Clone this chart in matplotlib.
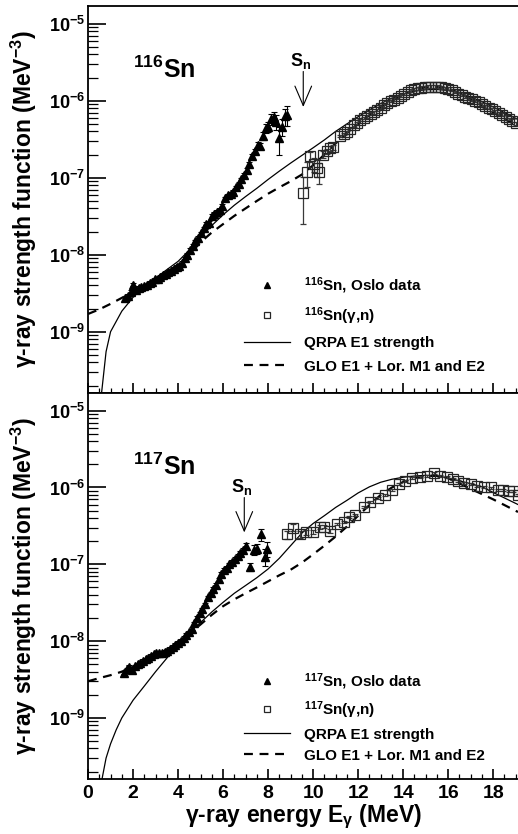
import matplotlib
matplotlib.use('Agg')
import matplotlib.pyplot as plt
from matplotlib.ticker import MultipleLocator, FixedLocator, LogFormatterMathtext, NullFormatter

plt.rcParams['font.family'] = ['Liberation Sans', 'DejaVu Sans']
plt.rcParams['font.weight'] = 'bold'
plt.rcParams['axes.labelweight'] = 'bold'
plt.rcParams['mathtext.default'] = 'regular'

# 116Sn, Oslo data
oslo116_x = [1.65, 1.77, 1.89, 2.01, 2.13, 2.25, 2.37, 2.49, 2.61, 2.73, 2.85, 2.97, 3.09, 3.21, 3.33,
             3.45, 3.57, 3.69, 3.81, 3.93, 4.05, 4.17, 4.29, 4.41, 4.53, 4.65, 4.77, 4.89, 5.01, 5.13,
             5.25, 5.37, 5.49, 5.61, 5.73, 5.85, 5.97, 6.09, 6.21, 6.33, 6.45, 6.57, 6.69, 6.81, 6.93,
             7.05, 7.17, 7.29, 7.41, 7.53, 7.65, 7.77, 7.89, 8.01, 8.13, 8.25, 8.37, 8.49, 8.61, 8.73, 8.85]
oslo116_y = [2.7e-9, 2.9e-9, 3.3e-9, 4.1e-9, 3.5e-9, 3.7e-9, 3.8e-9, 3.9e-9, 4.0e-9, 4.3e-9,
             4.4e-9, 4.8e-9, 4.9e-9, 5.1e-9, 5.4e-9, 5.6e-9, 5.9e-9, 6.2e-9, 6.5e-9, 7.0e-9,
             7.2e-9, 7.8e-9, 9.0e-9, 1.0e-8, 1.15e-8, 1.3e-8, 1.5e-8, 1.65e-8, 1.9e-8, 2.2e-8,
             2.5e-8, 2.6e-8, 3.2e-8, 3.4e-8, 3.6e-8, 3.8e-8, 4.3e-8, 5.4e-8, 5.9e-8, 6.2e-8,
             6.6e-8, 7.5e-8, 8.3e-8, 9.5e-8, 1.1e-7, 1.25e-7, 1.5e-7, 1.9e-7, 2.2e-7, 2.7e-7,
             2.6e-7, 3.5e-7, 4.4e-7, 4.6e-7, 5.8e-7, 6.1e-7, 5.3e-7, 3.3e-7, 4.6e-7, 6.3e-7, 6.6e-7]
oslo116_err = [0.05] * 44 + [0.06, 0.06, 0.07, 0.08, 0.08, 0.09, 0.10, 0.12, 0.14, 0.15,
                             0.17, 0.18, 0.22, 0.40, 0.25, 0.25, 0.28]

# 116Sn(g,n)
gn116_x = [9.55, 9.73, 9.87, 10.02, 10.15, 10.28, 10.45, 10.6, 10.75, 10.9, 11.2, 11.35, 11.5, 11.65,
           11.8, 11.95, 12.1, 12.25, 12.4, 12.55, 12.7, 12.85, 13.0, 13.15, 13.3, 13.45, 13.6, 13.75,
           13.9, 14.05, 14.2, 14.35, 14.5, 14.65, 14.8, 14.95, 15.1, 15.25, 15.4, 15.55, 15.7, 15.85,
           16.0, 16.15, 16.3, 16.45, 16.6, 16.75, 16.9, 17.05, 17.2, 17.35, 17.5, 17.65, 17.8, 17.95,
           18.1, 18.25, 18.4, 18.55, 18.7, 18.85, 19.0]
gn116_y = [6.3e-8, 1.17e-7, 1.9e-7, 1.5e-7, 1.35e-7, 1.2e-7, 2.0e-7, 2.2e-7, 2.4e-7, 2.5e-7,
           3.5e-7, 3.7e-7, 3.9e-7, 4.3e-7, 4.8e-7, 5.1e-7, 5.6e-7, 6.0e-7, 6.3e-7, 6.8e-7,
           7.1e-7, 7.6e-7, 8.1e-7, 8.7e-7, 9.4e-7, 9.9e-7, 1.03e-6, 1.1e-6, 1.16e-6, 1.22e-6,
           1.3e-6, 1.36e-6, 1.42e-6, 1.45e-6, 1.48e-6, 1.5e-6, 1.52e-6, 1.53e-6, 1.53e-6, 1.52e-6,
           1.5e-6, 1.47e-6, 1.44e-6, 1.38e-6, 1.3e-6, 1.24e-6, 1.19e-6, 1.13e-6, 1.08e-6, 1.04e-6,
           9.9e-7, 9.5e-7, 9.0e-7, 8.5e-7, 8.1e-7, 7.7e-7, 7.3e-7, 6.9e-7, 6.6e-7, 6.2e-7,
           5.8e-7, 5.5e-7, 5.1e-7]
gn116_err = [0.6, 0.35, 0.15, 0.2, 0.25, 0.3, 0.1, 0.08, 0.08, 0.07] + [0.04] * 53

# 117Sn, Oslo data
oslo117_x = [1.60, 1.72, 1.84, 1.96, 2.08, 2.20, 2.32, 2.44, 2.56, 2.68, 2.80, 2.92, 3.04, 3.16, 3.28,
             3.40, 3.52, 3.64, 3.76, 3.88, 4.00, 4.12, 4.24, 4.36, 4.48, 4.60, 4.72, 4.84, 4.96, 5.08,
             5.20, 5.32, 5.44, 5.56, 5.68, 5.80, 5.92, 6.04, 6.16, 6.28, 6.40, 6.52, 6.64, 6.76, 6.88,
             7.00, 7.20, 7.35, 7.50, 7.70, 7.85, 7.95]
oslo117_y = [3.9e-9, 4.3e-9, 4.6e-9, 4.2e-9, 4.7e-9, 5.0e-9, 5.2e-9, 5.5e-9, 5.8e-9, 6.1e-9,
             6.4e-9, 6.7e-9, 6.9e-9, 7.0e-9, 7.1e-9, 7.3e-9, 7.5e-9, 7.9e-9, 8.4e-9, 9.0e-9,
             9.5e-9, 1.0e-8, 1.1e-8, 1.2e-8, 1.3e-8, 1.45e-8, 1.7e-8, 2.0e-8, 2.3e-8, 2.6e-8,
             3.0e-8, 3.7e-8, 4.2e-8, 4.8e-8, 5.4e-8, 6.4e-8, 7.5e-8, 8.4e-8, 9.0e-8, 1.0e-7,
             1.08e-7, 1.17e-7, 1.28e-7, 1.4e-7, 1.55e-7, 1.75e-7, 9.3e-8, 1.55e-7, 1.6e-7, 2.45e-7,
             1.25e-7, 1.6e-7]
oslo117_err = [0.05] * 44 + [0.06, 0.07, 0.12, 0.15, 0.15, 0.18, 0.25, 0.22]

# 117Sn(g,n)
gn117_x = [8.83, 9.1, 9.4, 9.7, 10.0, 10.3, 10.5, 10.76, 11.05, 11.35, 11.6, 11.87, 12.24, 12.54,
           12.9, 13.2, 13.5, 13.8, 14.1, 14.4, 14.75, 15.05, 15.35, 15.65, 15.95, 16.2, 16.45, 16.7,
           17.0, 17.3, 17.6, 17.9, 18.2, 18.45, 18.7, 18.9, 19.1]
gn117_y = [2.45e-7, 3.0e-7, 2.45e-7, 2.6e-7, 2.65e-7, 3.1e-7, 3.1e-7, 2.7e-7, 3.3e-7, 3.6e-7,
           4.1e-7, 4.4e-7, 5.5e-7, 6.4e-7, 7.4e-7, 8.1e-7, 9.4e-7, 1.1e-6, 1.2e-6, 1.34e-6,
           1.39e-6, 1.43e-6, 1.55e-6, 1.42e-6, 1.39e-6, 1.3e-6, 1.22e-6, 1.16e-6, 1.1e-6, 1.06e-6,
           1.03e-6, 1.0e-6, 9.4e-7, 9.2e-7, 9.0e-7, 8.9e-7, 7.9e-7]
gn117_err = [0.12, 0.1, 0.1, 0.08, 0.06, 0.06, 0.05, 0.06] + [0.03] * 29

# QRPA E1 strength
qrpa116_x = [0.6, 0.8, 1.0, 1.5, 2.0, 2.5, 3.0, 3.5, 4.0, 4.5, 5.0, 5.5, 6.0, 6.5, 7.0, 7.5, 8.0,
             8.5, 9.0, 9.5, 10.0, 10.5, 11.0, 11.5, 12.0, 12.5, 13.0, 13.5, 14.0, 14.5, 15.0, 15.5,
             16.0, 16.5, 17.0, 17.5, 18.0, 18.5, 19.1]
qrpa116_y = [1.6e-10, 5.5e-10, 1.0e-9, 1.85e-9, 2.8e-9, 3.8e-9, 5.0e-9, 6.4e-9, 8.2e-9, 1.15e-8,
             1.7e-8, 2.4e-8, 3.3e-8, 4.4e-8, 5.7e-8, 7.3e-8, 9.5e-8, 1.22e-7, 1.55e-7, 1.95e-7,
             2.45e-7, 3.1e-7, 4.0e-7, 5.0e-7, 6.2e-7, 7.6e-7, 9.2e-7, 1.08e-6, 1.22e-6, 1.33e-6,
             1.39e-6, 1.40e-6, 1.36e-6, 1.26e-6, 1.12e-6, 9.7e-7, 8.3e-7, 7.0e-7, 5.7e-7]
qrpa117_x = [0.62, 0.8, 1.0, 1.25, 1.5, 2.0, 2.5, 3.0, 3.5, 4.0, 4.5, 5.0, 5.5, 6.0, 6.5, 7.0, 7.5,
             8.0, 8.5, 9.0, 9.5, 10.0, 10.5, 11.0, 11.5, 12.0, 12.5, 13.0, 13.5, 14.0, 14.5, 15.0,
             15.5, 16.0, 16.5, 17.0, 17.5, 18.0, 18.5, 19.1]
qrpa117_y = [1.6e-10, 3.0e-10, 4.6e-10, 7.0e-10, 1.0e-9, 1.7e-9, 2.6e-9, 4.0e-9, 6.0e-9, 9.0e-9,
             1.3e-8, 1.75e-8, 2.4e-8, 3.2e-8, 4.2e-8, 5.3e-8, 6.7e-8, 8.7e-8, 1.2e-7, 1.75e-7,
             2.55e-7, 3.4e-7, 4.3e-7, 5.5e-7, 6.8e-7, 8.5e-7, 1.02e-6, 1.17e-6, 1.28e-6, 1.36e-6,
             1.41e-6, 1.44e-6, 1.42e-6, 1.33e-6, 1.22e-6, 1.12e-6, 1.02e-6, 8.6e-7, 7.3e-7, 6.0e-7]

# GLO E1 + Lor. M1 and E2
glo_x = [0.0, 0.5, 1.0, 1.5, 2.0, 2.5, 3.0, 3.5, 4.0, 4.5, 5.0, 5.5, 6.0, 6.5, 7.0, 7.5, 8.0, 8.5,
         9.0, 9.5, 10.0, 10.5, 11.0, 11.5, 12.0, 12.5, 13.0, 13.5, 14.0, 14.5, 15.0, 15.5, 16.0,
         16.5, 17.0, 17.5, 18.0, 18.5, 19.1]
glo116_y = [1.7e-9, 1.95e-9, 2.3e-9, 2.75e-9, 3.3e-9, 4.0e-9, 4.8e-9, 5.8e-9, 7.5e-9, 1.0e-8,
            1.45e-8, 1.95e-8, 2.5e-8, 3.2e-8, 4.0e-8, 5.0e-8, 6.2e-8, 7.5e-8, 9.0e-8, 1.1e-7,
            1.45e-7, 2.0e-7, 2.8e-7, 3.8e-7, 5.0e-7, 6.5e-7, 8.2e-7, 1.0e-6, 1.2e-6, 1.38e-6,
            1.5e-6, 1.52e-6, 1.44e-6, 1.26e-6, 1.05e-6, 8.6e-7, 7.0e-7, 5.8e-7, 4.7e-7]
glo117_y = [3.0e-9, 3.3e-9, 3.6e-9, 4.0e-9, 4.6e-9, 5.3e-9, 6.3e-9, 7.6e-9, 9.6e-9, 1.25e-8,
            1.65e-8, 2.2e-8, 2.85e-8, 3.5e-8, 4.2e-8, 5.0e-8, 6.0e-8, 7.2e-8, 8.5e-8, 1.05e-7,
            1.35e-7, 1.75e-7, 2.3e-7, 3.1e-7, 4.3e-7, 5.9e-7, 8.0e-7, 1.0e-6, 1.18e-6, 1.33e-6,
            1.41e-6, 1.42e-6, 1.32e-6, 1.13e-6, 9.6e-7, 8.2e-7, 7.0e-7, 5.9e-7, 4.8e-7]

# neutron separation energies and arrow ends (MeV, MeV^-3)
SN = {'116': (9.56, 2.4e-6, 8.3e-7, 3.3e-6), '117': (6.94, 7.4e-7, 2.6e-7, 1.0e-6)}

XMAX = 19.1
YLIM = (1.6e-10, 1.7e-5)
Y_DECADES = [1e-9, 1e-8, 1e-7, 1e-6, 1e-5]
Y_MINOR = [m * d for d in [1e-10] + Y_DECADES[:-1] for m in range(2, 10)] + [2e-5]


def draw_panel(ax, iso, ox, oy, oerr, gx, gy, gerr, qx, qy, lx, ly, leg_top, leg_space):
    ax.plot(qx, qy, color='black', lw=0.9, label='QRPA E1 strength')
    ax.plot(lx, ly, color='black', lw=1.6, linestyle=(0, (4, 3)), label='GLO E1 + Lor. M1 and E2')
    g = ax.errorbar(gx, gy, yerr=[y * e for y, e in zip(gy, gerr)], fmt='s', ms=6.5,
                    mfc='none', mec='#262626', mew=0.9, ecolor='#3a3a3a', elinewidth=0.9,
                    capsize=2.5, capthick=0.9)
    o = ax.errorbar(ox, oy, yerr=[y * e for y, e in zip(oy, oerr)], fmt='^', ms=6,
                    color='black', ecolor='black', elinewidth=0.8, capsize=2.5, capthick=0.8)

    x, y0, y1, yt = SN[iso]
    ax.annotate('', xy=(x, y1), xytext=(x, y0),
                arrowprops=dict(arrowstyle='->,head_length=0.7,head_width=0.3', lw=0.8,
                                color='black', mutation_scale=20, shrinkA=0, shrinkB=0))
    ax.text(x - 0.1, yt, 'S$_n$', ha='center', va='center', fontsize=13)
    ax.text(0.105, leg_top + 0.51, '$^{%s}$Sn' % iso, transform=ax.transAxes,
            fontsize=18, va='baseline')

    handles = [o.lines[0], g.lines[0]] + ax.get_lines()[:2]
    labels = ['$^{%s}$Sn, Oslo data' % iso, '$^{%s}$Sn(γ,n)' % iso,
              'QRPA E1 strength', 'GLO E1 + Lor. M1 and E2']
    ax.legend(handles, labels, loc='upper left', bbox_to_anchor=(0.363, leg_top),
              frameon=False, fontsize=11, handlelength=3.0, handletextpad=0.95,
              labelspacing=leg_space, borderpad=0, borderaxespad=0, markerscale=0.7)

    ax.set_yscale('log')
    ax.set_xlim(0, XMAX)
    ax.set_ylim(*YLIM)
    ax.xaxis.set_major_locator(MultipleLocator(2))
    ax.xaxis.set_minor_locator(MultipleLocator(0.5))
    ax.yaxis.set_major_locator(FixedLocator(Y_DECADES))
    ax.yaxis.set_minor_locator(FixedLocator([v for v in Y_MINOR if YLIM[0] < v < YLIM[1]]))
    ax.yaxis.set_major_formatter(LogFormatterMathtext())
    ax.yaxis.set_minor_formatter(NullFormatter())
    ax.tick_params(axis='y', which='major', direction='in', length=13, width=1.2, labelsize=13, pad=2)
    ax.tick_params(axis='y', which='minor', direction='in', length=7, width=0.9)
    ax.tick_params(axis='x', which='major', direction='in', length=7, width=1.2, labelsize=14, pad=4)
    ax.tick_params(axis='x', which='minor', direction='in', length=3.5, width=0.9)
    ax.spines['right'].set_visible(False)
    for s in ('left', 'bottom', 'top'):
        ax.spines[s].set_linewidth(1.3)
    for t in ax.get_yticklabels() + ax.get_xticklabels():
        t.set_fontweight('bold')
    ax.set_ylabel('γ-ray strength function (MeV$^{-3}$)', fontsize=16.5, fontweight='bold')
    ax.yaxis.set_label_coords(-0.113, 0.5)


def main():
    fig = plt.figure(figsize=(5.18, 8.34), dpi=100)
    ax1 = fig.add_axes([0.170, 0.5288, 0.830, 0.4640])
    ax2 = fig.add_axes([0.170, 0.0659, 0.830, 0.4629])

    draw_panel(ax1, '116', oslo116_x, oslo116_y, oslo116_err, gn116_x, gn116_y, gn116_err,
               qrpa116_x, qrpa116_y, glo_x, glo116_y, 0.305, 0.62)
    draw_panel(ax2, '117', oslo117_x, oslo117_y, oslo117_err, gn117_x, gn117_y, gn117_err,
               qrpa117_x, qrpa117_y, glo_x, glo117_y, 0.278, 0.45)

    ax1.tick_params(axis='x', labelbottom=False)
    ax2.set_xlabel('γ-ray energy E$_γ$ (MeV)', fontsize=16.5, fontweight='bold')
    ax2.xaxis.set_label_coords(0.5, -0.062)

    fig.savefig('out.png', dpi=100)


if __name__ == '__main__':
    main()
